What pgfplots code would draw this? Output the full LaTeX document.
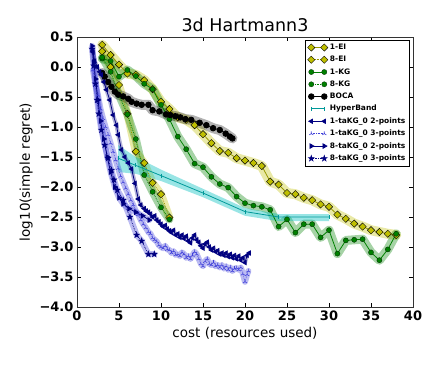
\documentclass[border=0pt]{standalone}
\usepackage{fontspec}
\setmainfont{DejaVu Sans}
\usepackage{pgfplots}
\usepackage{pgfplotstable}
\pgfplotsset{compat=1.18}
\usetikzlibrary{plotmarks}
\definecolor{mplY}{rgb}{0.75,0.75,0}
\definecolor{mplG}{rgb}{0,0.5,0}
\definecolor{mplC}{rgb}{0,0.75,0.75}
\definecolor{mplCd}{rgb}{0,0.6,0.6}
\definecolor{navyb}{rgb}{0,0,0.5}
\definecolor{blueb}{rgb}{0.25,0.25,0.85}
\pgfdeclareplotmark{fstar}{%
 \pgfpathmoveto{\pgfqpointpolar{90}{\pgfplotmarksize}}%
 \pgfpathlineto{\pgfqpointpolar{126}{0.382\pgfplotmarksize}}%
 \pgfpathlineto{\pgfqpointpolar{162}{\pgfplotmarksize}}%
 \pgfpathlineto{\pgfqpointpolar{198}{0.382\pgfplotmarksize}}%
 \pgfpathlineto{\pgfqpointpolar{234}{\pgfplotmarksize}}%
 \pgfpathlineto{\pgfqpointpolar{270}{0.382\pgfplotmarksize}}%
 \pgfpathlineto{\pgfqpointpolar{306}{\pgfplotmarksize}}%
 \pgfpathlineto{\pgfqpointpolar{342}{0.382\pgfplotmarksize}}%
 \pgfpathlineto{\pgfqpointpolar{18}{\pgfplotmarksize}}%
 \pgfpathlineto{\pgfqpointpolar{54}{0.382\pgfplotmarksize}}%
 \pgfpathclose\pgfusepathqfillstroke}

\pgfplotstableread{
x y
3 0.37
4 0.20
5 0.04
6 -0.11
7 -0.13
8 -0.22
9 -0.37
10 -0.58
11 -0.70
12 -0.84
13 -0.88
14 -0.97
15 -1.12
16 -1.27
17 -1.40
18 -1.43
19 -1.52
20 -1.56
21 -1.60
22 -1.65
23 -1.91
24 -1.96
25 -2.10
26 -2.12
27 -2.18
28 -2.22
29 -2.29
30 -2.33
31 -2.46
32 -2.53
33 -2.61
34 -2.66
35 -2.72
36 -2.75
37 -2.78
38 -2.80
}\oneEI
\pgfplotstableread{
x y
3 0.26
4 0.00
5 -0.30
6 -0.78
7 -1.41
8 -1.60
9 -1.93
10 -2.12
11 -2.51
}\eightEI
\pgfplotstableread{
x y
3 0.14
4 0.10
5 -0.16
6 -0.05
7 -0.15
8 -0.28
9 -0.37
10 -0.63
11 -0.87
12 -1.16
13 -1.37
14 -1.61
15 -1.67
16 -1.83
17 -1.95
18 -2.01
19 -2.16
20 -2.27
21 -2.31
22 -2.33
23 -2.38
24 -2.66
25 -2.54
26 -2.76
27 -2.62
28 -2.62
29 -2.84
30 -2.72
31 -3.11
32 -2.89
33 -2.88
34 -2.87
35 -3.09
36 -3.22
37 -3.04
38 -2.78
}\oneKG
\pgfplotstableread{
x y
3 0.16
4 -0.08
5 -0.47
6 -0.79
7 -1.20
8 -1.80
9 -2.08
10 -2.34
11 -2.54
}\eightKG
\pgfplotstableread{
x y
3.0 -0.10
3.3 -0.16
3.7 -0.25
4.1 -0.33
4.5 -0.41
4.9 -0.46
5.5 -0.49
6.1 -0.53
6.5 -0.58
7.1 -0.61
7.7 -0.63
8.5 -0.63
9.0 -0.72
9.8 -0.74
10.6 -0.79
11.1 -0.80
11.7 -0.82
12.3 -0.84
12.9 -0.87
13.6 -0.88
14.6 -0.93
15.4 -0.97
16.2 -1.02
17.0 -1.05
17.7 -1.11
18.2 -1.16
18.5 -1.19
}\boca
\pgfplotstableread{
x y
4.9 -1.52
7 -1.64
10 -1.81
15 -2.10
20 -2.41
24 -2.50
30 -2.50
}\hyper
\pgfplotstableread{
x y
1.9 0.25
2.1 0.10
2.4 0.00
2.7 -0.08
2.9 -0.13
3.2 -0.25
3.5 -0.38
3.9 -0.55
4.3 -0.80
4.7 -0.97
4.9 -1.13
5.3 -1.38
5.7 -1.50
6.1 -1.60
6.5 -1.70
6.9 -1.94
7.3 -2.20
7.6 -2.30
8.0 -2.36
8.25 -2.40
8.5 -2.42
8.75 -2.45
9.0 -2.50
9.25 -2.48
9.5 -2.55
9.75 -2.58
10.0 -2.62
10.25 -2.66
10.5 -2.64
10.75 -2.70
11.0 -2.73
11.25 -2.76
11.5 -2.72
11.75 -2.80
12.0 -2.78
12.25 -2.84
12.5 -2.80
12.75 -2.86
13.0 -2.82
13.25 -2.90
13.5 -2.93
13.75 -2.85
14.0 -2.80
14.25 -2.88
14.5 -2.92
14.75 -2.98
15.0 -3.02
15.25 -2.95
15.5 -2.92
15.75 -3.00
16.0 -3.05
16.25 -3.02
16.5 -3.08
16.75 -3.06
17.0 -3.12
17.25 -3.10
17.5 -3.14
17.75 -3.10
18.0 -3.16
18.25 -3.12
18.5 -3.18
18.75 -3.14
19.0 -3.20
19.25 -3.15
19.5 -3.22
19.75 -3.18
20.0 -3.26
20.25 -3.14
20.5 -3.10
}\oneTwo
\pgfplotstableread{
x y
1.9 -0.05
2.2 -0.30
2.5 -0.47
2.8 -0.70
3.1 -0.86
3.4 -1.00
3.7 -1.13
4.0 -1.27
4.3 -1.41
4.6 -1.55
4.9 -1.69
5.2 -1.82
5.5 -1.92
5.8 -2.02
6.1 -2.12
6.4 -2.22
6.7 -2.30
7.0 -2.40
7.3 -2.46
7.6 -2.55
7.9 -2.62
8.2 -2.68
8.5 -2.75
8.75 -2.78
9.0 -2.85
9.25 -2.88
9.5 -2.91
9.75 -2.97
10.0 -3.00
10.25 -3.02
10.5 -2.98
10.75 -3.04
11.0 -3.05
11.25 -3.10
11.5 -3.07
11.75 -3.13
12.0 -3.12
12.25 -3.15
12.5 -3.09
12.75 -3.12
13.0 -3.18
13.25 -3.15
13.5 -3.20
13.75 -3.14
14.0 -3.08
14.25 -3.12
14.5 -3.20
14.75 -3.28
15.0 -3.32
15.25 -3.24
15.5 -3.20
15.75 -3.28
16.0 -3.30
16.25 -3.26
16.5 -3.32
16.75 -3.30
17.0 -3.34
17.25 -3.30
17.5 -3.36
17.75 -3.32
18.0 -3.38
18.25 -3.34
18.5 -3.40
18.75 -3.36
19.0 -3.35
19.25 -3.38
19.5 -3.34
19.75 -3.45
20.0 -3.58
20.25 -3.46
20.4 -3.40
}\oneThree
\pgfplotstableread{
x y
1.8 0.35
2.0 0.08
2.2 -0.20
2.5 -0.55
2.8 -0.90
3.2 -1.20
3.6 -1.50
4.0 -1.75
4.5 -2.00
5.0 -2.18
5.5 -2.28
6.2 -2.36
7.0 -2.42
7.8 -2.48
8.6 -2.55
}\eightTwo
\pgfplotstableread{
x y
1.8 0.30
2.0 0.02
2.2 -0.28
2.4 -0.55
2.6 -0.78
2.9 -1.05
3.3 -1.30
3.7 -1.52
4.1 -1.72
4.4 -1.88
4.8 -2.05
5.5 -2.22
6.3 -2.50
7.1 -2.80
7.7 -2.90
8.5 -3.12
9.2 -3.12
}\eightThree

\begin{document}
\begin{tikzpicture}
\begin{axis}[
  scale only axis, width=336pt, height=270pt,
  xmin=0, xmax=40, ymin=-4, ymax=0.5,
  xtick={0,5,10,15,20,25,30,35,40},
  xticklabels={0,5,10,15,20,25,30,35,40},
  ytick={-4,-3.5,-3,-2.5,-2,-1.5,-1,-0.5,0,0.5},
  yticklabels={−4.0,−3.5,−3.0,−2.5,−2.0,−1.5,−1.0,−0.5,0.0,0.5},
  ticklabel style={font=\bfseries\fontsize{13}{13}\selectfont},
  tick align=inside, major tick length=4pt,
  tick style={black, line width=0.5pt},
  axis line style={black!80, line width=0.8pt},
  xlabel={cost (resources used)},
  ylabel={log10(simple regret)},
  label style={font=\fontsize{13.5}{14}\selectfont},
  title={3d Hartmann3},
  title style={font=\fontsize{17.5}{18}\selectfont, yshift=-4pt},
  legend cell align=left,
  legend style={at={(0.99,0.99)}, anchor=north east, draw=black, line width=0.7pt,
    font=\bfseries\fontsize{7.5}{8}\selectfont, row sep=1.2pt, inner sep=2pt},
  legend image code/.code={\draw[mark repeat=1,mark phase=1,#1] plot coordinates {(0pt,0pt) (13pt,0pt)};},
  clip=true,
]
% bands
\addplot[forget plot, mplY, opacity=0.35, line width=10pt, line join=round, line cap=round] table {\oneEI};
\addplot[forget plot, mplY, opacity=0.35, line width=8pt, line join=round, line cap=round] table {\eightEI};
\addplot[forget plot, mplG, opacity=0.35, line width=9pt, line join=round, line cap=round] table {\oneKG};
\addplot[forget plot, mplG, opacity=0.35, line width=8pt, line join=round, line cap=round] table {\eightKG};
\addplot[forget plot, black, opacity=0.3, line width=10pt, line join=round, line cap=round] table {\boca};
\addplot[forget plot, fill=mplC, fill opacity=0.4, draw=none] coordinates {(4.9,-1.30) (7,-1.50) (10,-1.71) (15,-2.03) (20,-2.35) (24,-2.45) (30,-2.45) (30,-2.57) (24,-2.57) (20,-2.48) (15,-2.17) (10,-1.90) (7,-1.78) (4.9,-1.75)};
\addplot[forget plot, blueb, opacity=0.35, line width=6pt, line join=round, line cap=round] table {\oneThree};
\addplot[forget plot, blueb, opacity=0.35, line width=6pt, line join=round, line cap=round] table {\eightThree};
\addplot[forget plot, blueb, opacity=0.35, line width=6pt, line join=round, line cap=round] table {\eightTwo};
\addplot[forget plot, navyb, opacity=0.3, line width=4pt, line join=round, line cap=round] table {\oneTwo};
% lines
\addplot[mplY!80!black, line width=0.8pt, mark=square*, mark size=2.6pt, mark options={rotate=45, fill=mplY, draw=black, line width=0.4pt, solid}] table {\oneEI};
\addlegendentry{1-EI}
\addplot[mplY!80!black, line width=0.8pt, densely dotted, mark=square*, mark size=2.6pt, mark options={rotate=45, fill=mplY, draw=black, line width=0.4pt, solid}] table {\eightEI};
\addlegendentry{8-EI}
\addplot[mplG, line width=0.8pt, mark=*, mark size=2.6pt, mark options={fill=mplG, draw=black!70!mplG, line width=0.3pt, solid}] table {\oneKG};
\addlegendentry{1-KG}
\addplot[mplG, line width=0.8pt, densely dotted, mark=*, mark size=2.6pt, mark options={fill=mplG, draw=black!70!mplG, line width=0.3pt, solid}] table {\eightKG};
\addlegendentry{8-KG}
\addplot[black, line width=0.8pt, mark=*, mark size=2.8pt, mark options={fill=black, solid}] table {\boca};
\addlegendentry{BOCA}
\addplot[mplCd, line width=0.8pt, mark=|, mark size=2pt, mark options={solid}] table {\hyper};
\addlegendentry{HyperBand}
\addplot[navyb, line width=0.8pt, mark=triangle*, mark size=2.4pt, mark options={rotate=90, fill=navyb, solid}] table {\oneTwo};
\addlegendentry{1-taKG\_0 2-points}
\addplot[blueb, line width=0.6pt, densely dotted, mark=Mercedes star, mark size=2.4pt, mark options={solid}] table {\oneThree};
\addlegendentry{1-taKG\_0 3-points}
\addplot[navyb, line width=0.8pt, mark=triangle*, mark size=2.6pt, mark options={rotate=-90, fill=navyb, solid}] table {\eightTwo};
\addlegendentry{8-taKG\_0 2-points}
\addplot[navyb, line width=0.7pt, densely dotted, mark=fstar, mark size=2.8pt, mark options={fill=navyb, solid}] table {\eightThree};
\addlegendentry{8-taKG\_0 3-points}
\end{axis}
\path ([shift={(-77pt,-57pt)}]current axis.south west) rectangle ([shift={(364pt,307pt)}]current axis.south west);
\end{tikzpicture}
\end{document}
